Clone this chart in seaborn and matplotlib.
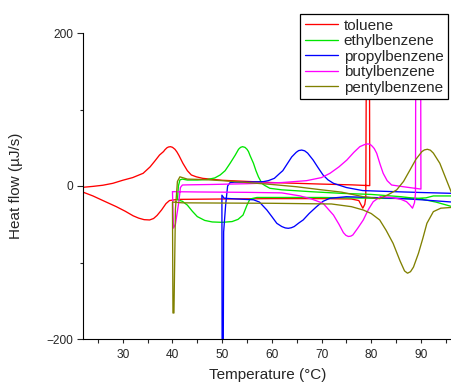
import pandas as pd
import numpy as np
import matplotlib
matplotlib.use("Agg")
import matplotlib.pyplot as plt
import seaborn as sns
from matplotlib.ticker import MultipleLocator, FixedLocator

# heat flow loops (temperature in C, heat flow in uJ/s)
# each list is one continuous scan: heating branch, turn-around spike, cooling branch
toluene_T = [22, 24, 26, 28.7, 30.5, 32.1, 33.2, 34.3, 35.4, 36.2, 36.9, 37.8, 38.7, 39.4, 41, 50, 60, 70, 76, 77.5,
             78.3, 78.7, 78.9, 79.1, 79.6, 79.7, 76, 70, 60, 50, 46.1, 44.8, 43.8, 43.0, 42.1, 41.3, 40.9,
             40.5, 40.0, 39.6, 39.2, 38.9, 38.5, 38.2, 37.4, 36.5, 35.5, 34.1, 32, 30, 28, 26, 24, 22]
toluene_Q = [-8, -13, -19, -27, -33, -39, -42, -44, -44.4, -42.5, -38.5, -31.4, -23, -19, -17.5, -17, -16.5, -16.5, -17, -19,
             -29, -24, -15, 300, 300, 0.5, 1.5, 2.5, 4.5, 7.5, 10, 12, 14.4, 20, 29.7, 40, 44.5,
             48, 50.6, 51.4, 51, 50, 47.5, 45, 40.5, 33, 25, 16.6, 11, 7.5, 3.5, 1, -0.5, -1.7]

ethyl_T = [100, 96.3, 93, 90, 86, 80, 74, 68, 62, 59.6, 58.5, 58, 57.3, 56.8, 56.3, 55.6, 55.3, 55, 54.6, 54.1,
           53.7, 53.3, 52.6, 51.6, 50.6, 49.6, 48.5, 47, 45, 43, 42, 41.5, 41.2, 41.0, 42, 43, 44, 45, 46.5, 48, 50,
           52, 53.2, 54.2, 55, 55.6, 57, 70, 80, 88, 91, 92.5, 96, 100]
ethyl_Q = [-33, -27, -21, -17, -14, -11, -9.6, -7.5, -5, -3, 1, 3.5, 12, 20, 29.7, 40, 45, 48, 50.5, 51.4,
           50.5, 48, 40, 29.7, 20, 14.4, 10.5, 8.5, 7.8, 7.8, 9, 8, 0, -18, -20, -25, -33, -40, -45, -47, -47.5,
           -46.5, -43.6, -38, -25, -17, -15, -15, -16, -16.5, -15.5, -13, -13, -13]

propyl_T = [100, 96.3, 90, 85, 78.3, 75, 72.4, 71.3, 70.3, 69.3, 68.3, 67.2, 66.6, 66, 65.4, 64.9, 64, 63, 62.2, 61.6,
            60.5, 59.3, 58.3, 55, 52.5, 51.6, 51.1, 50.7, 50.3, 50.2, 50.0, 49.95, 50.4, 53, 56.3, 57.5,
            59, 60, 61, 62, 62.7, 63.3, 63.9, 64.5, 65.5, 66.3, 67.5, 69, 70.3, 71.7, 75, 85, 90, 96.3, 100]
propyl_Q = [-11, -9.6, -8.5, -7.5, -6, -2, 3.5, 8, 14.4, 24, 34, 43, 46, 47, 46.3, 44, 38, 28, 20, 16.6,
            10, 7, 5.7, 5, 5, 4.5, 0, -25, -60, -260, -260, -12, -16, -17, -18, -21,
            -31.4, -40, -48.8, -53, -54.8, -55.3, -54.6, -53, -48, -44.4, -36, -27, -20, -16, -14, -16, -18, -21, -23]

butyl_T = [40.0, 45, 55, 62, 65.7, 68, 70.3, 72.4, 73.5, 74.4, 74.9, 75.4, 75.9, 76.3, 77.3, 78.4, 79.4, 80.4, 81.8,
           84, 86, 87.1, 87.8, 88.3, 88.7, 88.9, 89.0, 89.9, 90.0, 88.8, 86.5, 84.1, 83.2, 82.4, 81.8,
           81.1, 80.6, 80.2, 79.8, 79.4, 79.0, 78.6, 77.7, 76.5, 75.1, 73.5, 71.7, 70, 67, 62, 55, 48, 43, 42, 41.6,
           41.3, 40.6, 40.2, 40.0]
butyl_Q = [-7.4, -7.8, -8.3, -9, -13, -17, -22.6, -38, -50, -61, -64.5, -66, -65.5, -64, -55, -44.4, -31, -20.5, -14,
           -15, -17.5, -20.5, -25, -29, -22, -10, 300, 300, -4, -3, -1, 1.3, 7, 16.6, 28,
           42.7, 49, 52, 54.3, 55, 54.8, 54, 51.4, 44, 34, 25, 16.6, 11, 7, 4.5, 3, 2, 1.5, 1.3, -2,
           -20, -50, -55, -7.4]

pentyl_T = [98, 96.2, 95, 93.8, 92.5, 91.9, 91.3, 90.7, 90.2, 89, 87.8, 86.5, 85.1, 83.5, 81.7, 78.4, 74, 70, 65, 60,
            55, 50, 46, 43, 42, 41.5, 41.0, 40.6, 40.3, 40.1, 40.0, 42, 50, 60, 72, 76, 78.4, 80, 81.7,
            83, 84.4, 85.8, 86.7, 87.3, 87.9, 88.5, 89.5, 90.4, 91.2, 92.5, 94, 96.2, 98]
pentyl_Q = [-30, -9.6, 10, 29.7, 43, 46.8, 48, 47.2, 45, 35, 21, 6, -5.2, -11, -16.6, -14, -8, -5, -1, 2,
            4.5, 7, 8.5, 9, 11, 12, 6, -30, -166, -166, -21, -22, -22.3, -22.6, -23.5, -27, -31.4, -36, -44.4,
            -58, -75, -98, -111, -114, -112, -106, -88, -68, -48.8, -33.5, -29, -28, -30]

series = ["toluene", "ethylbenzene", "propylbenzene", "butylbenzene", "pentylbenzene"]
temps = [toluene_T, ethyl_T, propyl_T, butyl_T, pentyl_T]
flows = [toluene_Q, ethyl_Q, propyl_Q, butyl_Q, pentyl_Q]
colors = ["#ff0000", "#00e600", "#0000ff", "#ff00ff", "#808000"]

sns.set_style("ticks")
plt.rcParams['font.family'] = ['Liberation Sans', 'DejaVu Sans']

fig = plt.figure(figsize=(4.52, 3.87), dpi=100)
ax = fig.add_axes([83/452, 1 - 339/387, 1 - 83/452, (339 - 33)/387])

for name, T, Q, c in zip(series, temps, flows, colors):
    df = pd.DataFrame({'T': T, 'Q': Q})
    sns.lineplot(data=df, x='T', y='Q', sort=False, estimator=None, color=c, lw=0.95, ax=ax, label=name)

ax.set_xlim(22, 96.25)
ax.set_ylim(-200, 200)
ax.xaxis.set_major_locator(FixedLocator([30, 40, 50, 60, 70, 80, 90]))
ax.xaxis.set_minor_locator(MultipleLocator(5))
ax.yaxis.set_major_locator(MultipleLocator(200))
ax.yaxis.set_minor_locator(MultipleLocator(100))
ax.tick_params(axis='x', which='both', length=3, width=0.8, labelsize=8.6, pad=4)
ax.tick_params(axis='y', which='major', length=4.5, width=0.8, labelsize=8.6, pad=2.5)
ax.tick_params(axis='y', which='minor', length=2.5, width=0.8)
sns.despine(ax=ax)
for s in ['left', 'bottom']:
    ax.spines[s].set_linewidth(0.8)
    ax.spines[s].set_color('black')

ax.set_xlabel('Temperature (°C)', fontsize=11, labelpad=5)
ax.set_ylabel('Heat flow (µJ/s)', fontsize=11, labelpad=17)

ax.legend(loc='upper right', bbox_to_anchor=(448/452, 1 - 14/387), bbox_transform=fig.transFigure,
          fontsize=11, frameon=True, fancybox=False, framealpha=1, edgecolor='black',
          borderaxespad=0, borderpad=0.3, labelspacing=0.1, handlelength=2.2, handletextpad=0.35)
ax.get_legend().get_frame().set_linewidth(0.9)

fig.savefig('out.png', dpi=100)
